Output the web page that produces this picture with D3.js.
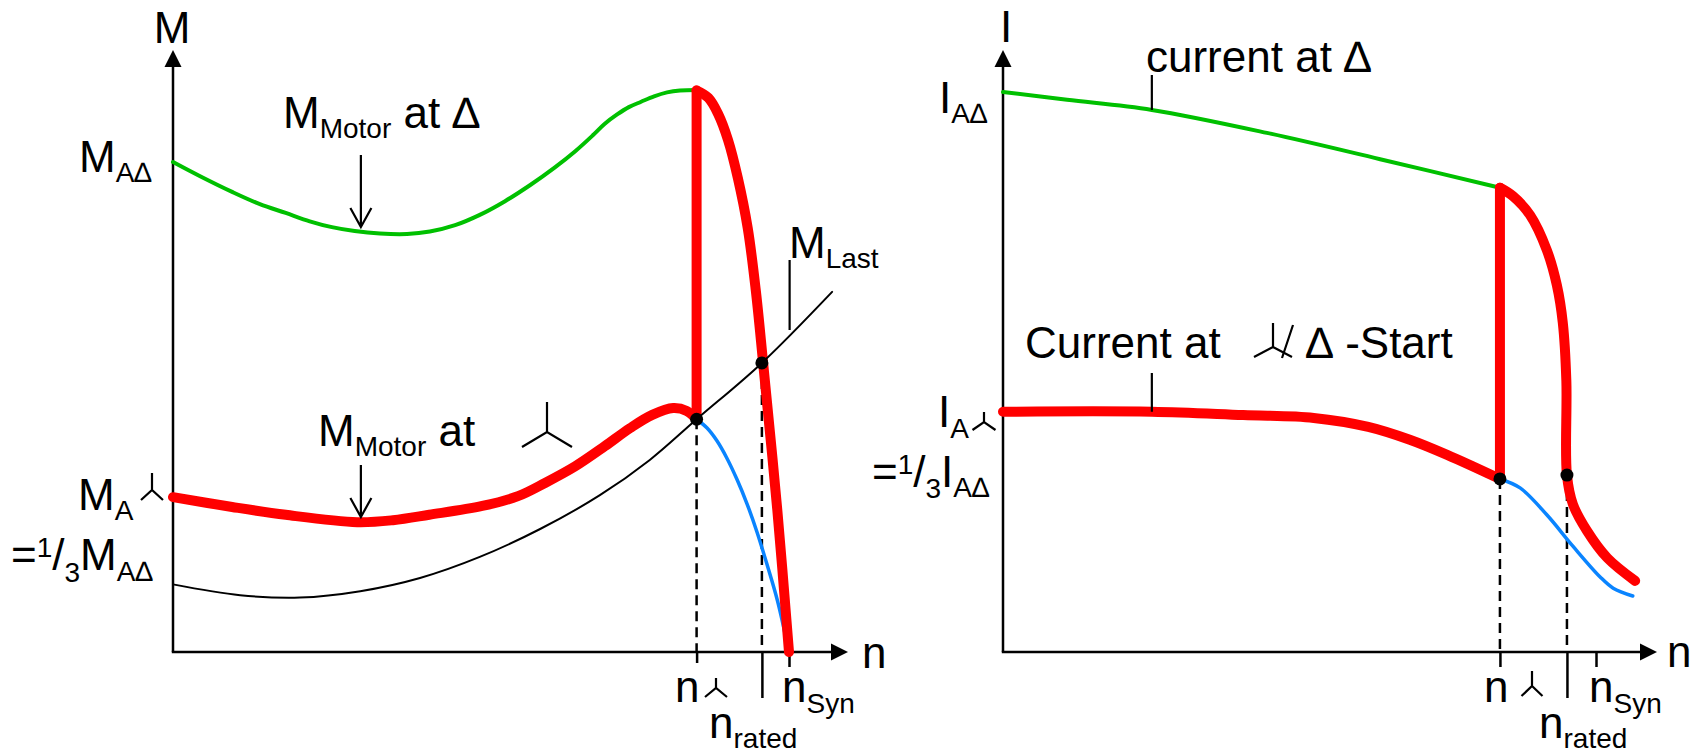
<!DOCTYPE html>
<html><head><meta charset="utf-8">
<script src="https://cdn.jsdelivr.net/npm/d3@7"></script>
<style>
html,body{margin:0;padding:0;background:#fff;}
svg{display:block;}
text{font-family:"Liberation Sans",Arial,Helvetica,sans-serif;fill:#000;}
</style></head>
<body>
<svg id="chart" width="1699" height="753"></svg>
<script>
// ---------------- DATA ----------------
// Left diagram: torque M vs speed n (n in % of n_syn, M in % of M_A∆)
const nStarL = 85, nRatedL = 95.6, nSynL = 100;
const torqueDelta = [[0,100],[4.4,97.1],[9.6,93.9],[14.1,91.4],[18.3,89.6],[22.2,87.9],[25.8,86.7],[29.5,85.9],[33.6,85.4],[38,85.3],[41.7,85.8],[45.8,87.1],[49.8,89.2],[53.9,92],[58,95.3],[62,98.9],[65.3,102.2],[68.2,105.5],[70.1,107.8],[72.1,109.7],[74,111.2],[76,112.3],[78.1,113.4],[80.2,114.2],[82.3,114.6],[85,114.7]];
const torqueDeltaRun = [[85,114.6],[86.9,113.1],[88.5,109.8],[90.1,104.5],[91.7,96.7],[93.3,86.5],[94.6,73.9],[95.8,59],[98.1,29],[100,0]];
const torqueStarStart = [[0,31.6],[9.6,29.6],[18.3,28],[29.9,26.5],[35.7,26.9],[41.6,28],[50.2,29.8],[56,31.8],[60.4,34.5],[65.3,37.9],[70.1,42],[74.2,45.7],[77.8,48.4],[81.2,49.8],[83.4,49.2],[85,47.5]];
const torqueStarRest = [[85,47.5],[86.7,45.7],[88.3,43.1],[89.9,39.6],[91.6,35.1],[93.2,30.2],[94.8,24.5],[96.4,18],[98.1,10.6],[100,0]];
const torqueLoad = [[0,13.8],[10.9,11.6],[20.6,11.1],[30.4,12.4],[40.1,15.1],[49.8,19.4],[59.6,25.1],[69.3,32],[77.4,39.2],[85,47.5],[95.6,59],[107,73.5]];
const torqueDots = [[85,47.5],[95.6,59]];

// Right diagram: current I vs speed n (I in % of I_A∆)
const nStarR = 83.8, nRatedR = 95.1, nSynR = 100;
const currentDelta = [[0,100],[10.8,98.6],[25.1,96.8],[44.5,92.7],[63.6,88],[83.8,82.9]];
const currentDeltaRun = [[83.8,82.9],[86,81.4],[88.9,78],[91.7,71.8],[93.4,65.5],[94.4,58.8],[95,48.4],[95.1,31.6],[96.1,26.4],[98.5,21.6],[101.9,16.8],[106.6,12.7]];
const currentStarStart = [[0,42.9],[25.1,42.9],[40.5,42.3],[52.4,41.8],[61.6,40.2],[68.6,37.9],[74.9,35.2],[83.8,30.9]];
const currentStarRest = [[83.8,30.9],[87.2,29.3],[91.7,24.5],[96.1,18.9],[100.7,13.4],[102.9,11.4],[106.2,10]];
const currentDots = [[83.8,30.9],[95.1,31.6]];

// ---------------- DRAWING ----------------
const svg = d3.select("#chart");
const RED = "#ff0000", GREEN = "#00c000", BLUE = "#0a84ff";
const F = 44, FS = 28;

function panel(xr, yr) {
  return {
    x: d3.scaleLinear().domain([0,100]).range(xr),
    y: d3.scaleLinear().domain([0,100]).range(yr)
  };
}
const L = panel([173,789],[652,162]);
const R = panel([1003,1596],[652,92]);

function curve(p, data, color, width) {
  const line = d3.line().x(d => p.x(d[0])).y(d => p.y(d[1])).curve(d3.curveCatmullRom.alpha(0.5));
  svg.append("path").attr("d", line(data)).attr("fill","none")
    .attr("stroke", color).attr("stroke-width", width)
    .attr("stroke-linecap","round").attr("stroke-linejoin","round");
}
function vline(p, n, v0, v1, color, width, dash) {
  const l = svg.append("line").attr("x1", p.x(n)).attr("x2", p.x(n))
    .attr("y1", p.y(v0)).attr("y2", p.y(v1))
    .attr("stroke", color).attr("stroke-width", width);
  if (dash) l.attr("stroke-dasharray", dash); else l.attr("stroke-linecap","round");
  return l;
}
function axes(p, xEnd, yTop) {
  const x0 = p.x(0), y0 = p.y(0);
  svg.append("line").attr("x1",x0).attr("y1",y0).attr("x2",x0).attr("y2",yTop+10)
    .attr("stroke","#000").attr("stroke-width",2.5);
  svg.append("line").attr("x1",x0-1.2).attr("y1",y0).attr("x2",xEnd-10).attr("y2",y0)
    .attr("stroke","#000").attr("stroke-width",2.5);
  svg.append("path").attr("d",`M${x0},${yTop} L${x0-8.5},${yTop+17} L${x0+8.5},${yTop+17} Z`).attr("fill","#000");
  svg.append("path").attr("d",`M${xEnd},${y0} L${xEnd-17},${y0-8.5} L${xEnd-17},${y0+8.5} Z`).attr("fill","#000");
}
function ticks(p, vals, lens) {
  const ax = d3.axisBottom(p.x).tickValues(vals).tickSize(15).tickFormat("");
  const g = svg.append("g").attr("transform", `translate(0,${p.y(0)})`).call(ax);
  g.select(".domain").remove();
  g.selectAll(".tick line").attr("stroke","#000").attr("stroke-width",2.5)
    .attr("y2", (d,i) => lens[i]);
}
function dots(p, data) {
  svg.selectAll(null).data(data).enter().append("circle")
    .attr("cx", d => p.x(d[0])).attr("cy", d => p.y(d[1])).attr("r", 6.5).attr("fill","#000");
}
function star(cx, cy, up, dx, dy, w) {
  svg.append("path").attr("d",`M${cx},${cy-up} L${cx},${cy} M${cx-dx},${cy+dy} L${cx},${cy} L${cx+dx},${cy+dy}`)
    .attr("fill","none").attr("stroke","#000").attr("stroke-width", w || 2.2).attr("stroke-linejoin","miter");
}
function label(x, parts) {
  const t = svg.append("text").attr("x", x).attr("y", parts[0][2]);
  parts.forEach(([s, size, y]) => {
    t.append("tspan").attr("y", y).attr("font-size", size).text(s);
  });
  return t;
}
function arrowDown(x, y1, y2) {
  svg.append("path").attr("d",`M${x},${y1} L${x},${y2} M${x-10.5},${y2-19} L${x},${y2} L${x+10.5},${y2-19}`)
    .attr("fill","none").attr("stroke","#000").attr("stroke-width",2.2);
}

// ----- Left panel -----
axes(L, 848, 50);
ticks(L, [nStarL, nRatedL, nSynL], [11, 46, 15]);
vline(L, nStarL, torqueDots[0][1], 0, "#000", 2.5, "10,6");
vline(L, nRatedL, torqueDots[1][1], 0, "#000", 2.5, "10,6");
curve(L, torqueDelta, GREEN, 4);
curve(L, torqueStarRest, BLUE, 3.5);
curve(L, torqueStarStart, RED, 10);
vline(L, nStarL, torqueDots[0][1], torqueDeltaRun[0][1], RED, 10);
curve(L, torqueDeltaRun, RED, 10);
curve(L, torqueLoad, "#000", 2);
dots(L, torqueDots);

// annotations left
arrowDown(L.x(30.5), 155, 227);
arrowDown(L.x(30.5), 465, 517);
svg.append("line").attr("x1", L.x(100.1)).attr("x2", L.x(100.1)).attr("y1", 260).attr("y2", 330)
  .attr("stroke","#000").attr("stroke-width",2.2);

svg.append("text").attr("x",172).attr("y",43).attr("text-anchor","middle").attr("font-size",F).text("M");
label(79, [["M",F,172],["A∆",FS,182]]);
label(78, [["M",F,510],["A",FS,520]]);
star(152, 490, 17, 11, 10);
label(11, [["=",F,570],["1",FS,557],["/",F,570],["3",FS,582],["M",F,570],["A∆",FS,581]]);
label(283, [["M",F,128],["Motor",FS,138],[" at ∆",F,128]]);
label(318, [["M",F,446],["Motor",FS,456],[" at",F,446]]);
star(547, 432, 30, 25, 15);
label(789, [["M",F,258],["Last",FS,268]]);
label(862, [["n",F,668]]);
label(675, [["n",F,702]]);
star(716, 688, 10, 11, 9);
label(709, [["n",F,738],["rated",FS,748]]);
label(782, [["n",F,702],["Syn",FS,713]]);

// ----- Right panel -----
axes(R, 1657, 50);
ticks(R, [nStarR, nRatedR, nSynR], [15, 46, 15]);
vline(R, nStarR, currentDots[0][1], 0, "#000", 2.5, "10,6");
vline(R, nRatedR, currentDots[1][1], 0, "#000", 2.5, "10,6");
curve(R, currentDelta, GREEN, 4);
curve(R, currentStarRest, BLUE, 3.5);
curve(R, currentStarStart, RED, 10);
vline(R, nStarR, currentDots[0][1], currentDeltaRun[0][1], RED, 10);
curve(R, currentDeltaRun, RED, 10);
dots(R, currentDots);

// annotations right
svg.append("line").attr("x1", R.x(25.1)).attr("x2", R.x(25.1)).attr("y1", 75).attr("y2", R.y(96.8))
  .attr("stroke","#000").attr("stroke-width",2.2);
svg.append("line").attr("x1", R.x(25.1)).attr("x2", R.x(25.1)).attr("y1", 373).attr("y2", R.y(42.9))
  .attr("stroke","#000").attr("stroke-width",2.2);

svg.append("text").attr("x",1006).attr("y",42).attr("text-anchor","middle").attr("font-size",F).text("I");
label(939, [["I",F,113],["A∆",FS,123]]);
label(938, [["I",F,427],["A",FS,438]]);
star(984, 422, 10, 11.5, 8);
label(872, [["=",F,487],["1",FS,474],["/",F,487],["3",FS,498],["I",F,487],["A∆",FS,497]]);
label(1146, [["current at ∆",F,72]]);
label(1025, [["Current at",F,358]]);
star(1273, 347, 24, 19, 10);
svg.append("line").attr("x1",1282).attr("y1",358).attr("x2",1293).attr("y2",325)
  .attr("stroke","#000").attr("stroke-width",2.2);
label(1306, [["∆ -Start",F,358]]);
label(1667, [["n",F,667]]);
label(1484, [["n",F,702]]);
star(1532, 686, 15, 10.5, 10);
label(1539, [["n",F,738],["rated",FS,748]]);
label(1589, [["n",F,702],["Syn",FS,713]]);
</script>
</body></html>
